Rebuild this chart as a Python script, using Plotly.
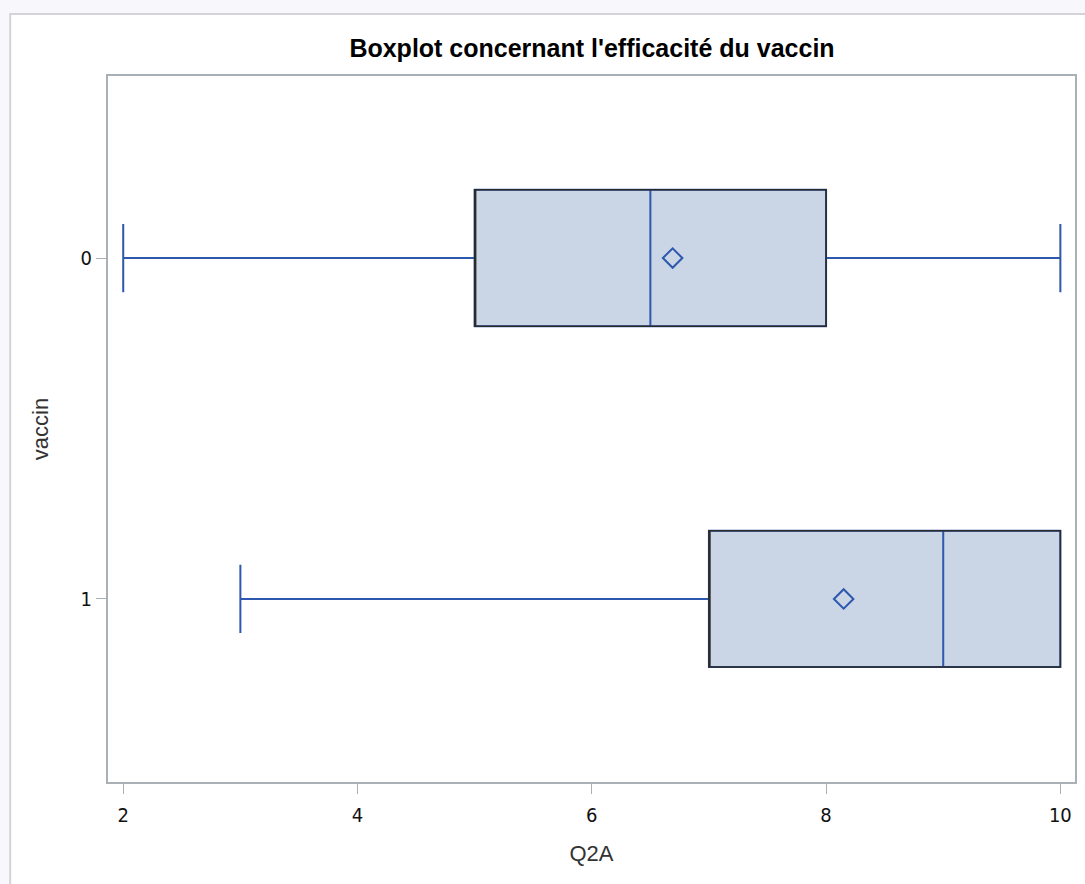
import plotly.graph_objects as go

# ---- data ----
categories = [0, 1]
q1 = [5, 7]
median = [6.5, 9]
q3 = [8, 10]
lower_whisker = [2, 3]
upper_whisker = [10, 10]
means = [6.69, 8.15]
x_ticks = [2, 4, 6, 8, 10]

BLUE = "#2C58AE"
FILL = "#CAD5E5"
EDGE = "#2a2a2a"
FONT = "Liberation Sans, Arial, sans-serif"
NARROW = "Liberation Sans Narrow, DejaVu Sans Condensed, Liberation Sans, sans-serif"

fig = go.Figure()

# full box (blue median + whiskers)
fig.add_trace(go.Box(
    y=categories, q1=q1, median=median, q3=q3,
    lowerfence=lower_whisker, upperfence=upper_whisker,
    orientation="h", width=0.4, whiskerwidth=0.5,
    fillcolor=FILL, line=dict(color=BLUE, width=2),
    boxpoints=False, showlegend=False, hoverinfo="skip",
))
# black outline of the box
fig.add_trace(go.Box(
    y=categories, q1=q1, median=q1, q3=q3,
    lowerfence=q1, upperfence=q3,
    orientation="h", width=0.4, whiskerwidth=0,
    fillcolor="rgba(0,0,0,0)", line=dict(color=EDGE, width=1.5),
    boxpoints=False, showlegend=False, hoverinfo="skip",
))
# means
fig.add_trace(go.Scatter(
    x=means, y=categories, mode="markers",
    marker=dict(symbol="diamond-open", size=15, color=BLUE, line=dict(width=2, color=BLUE)),
    showlegend=False, hoverinfo="skip",
))

L, R, T, B = 108, 8, 76, 102
W, H = 1085, 884
pw, ph = W - L - R, H - T - B

# outer light frame (paper coordinates)
fig.add_shape(type="rect", xref="paper", yref="paper",
              x0=(10 - L) / pw, x1=(1095 - L) / pw,
              y0=1 - (900 - T) / ph, y1=1 + (T - 14) / ph,
              line=dict(color="#d4d4d8", width=2), fillcolor="white", layer="below")

fig.update_layout(
    width=W, height=H,
    margin=dict(l=L, r=R, t=T, b=B),
    paper_bgcolor="#f8f8fc", plot_bgcolor="white",
    boxmode="overlay",
    title=dict(text="<b>Boxplot concernant l'efficacité du vaccin</b>",
               x=592 / W, xanchor="center", y=1 - 48 / H, yanchor="middle",
               font=dict(family=FONT, size=25, color="black")),
    font=dict(family=FONT, color="#222"),
)
fig.update_xaxes(
    range=[1.87, 10.125], tickvals=x_ticks, ticktext=[str(v) for v in x_ticks],
    showgrid=False, zeroline=False, showline=True, linecolor="#a9b0b6", linewidth=2, mirror=True,
    ticks="outside", ticklen=10, tickcolor="#a9b0b6", tickwidth=1,
    ticklabelstandoff=4,
    tickfont=dict(family=NARROW, size=20, color="#111"),
    title=dict(text="Q2A", font=dict(family=FONT, size=22, color="#333"), standoff=20),
)
fig.update_yaxes(
    range=[1.537, -0.534], tickvals=categories, ticktext=[str(c) for c in categories],
    showgrid=False, zeroline=False, showline=True, linecolor="#a9b0b6", linewidth=2, mirror=True,
    ticks="outside", ticklen=10, tickcolor="#a9b0b6", tickwidth=1,
    tickfont=dict(family=NARROW, size=20, color="#111"),
    title=dict(text="vaccin", font=dict(family=FONT, size=22, color="#333"), standoff=26),
)

fig.write_html("out.html")
